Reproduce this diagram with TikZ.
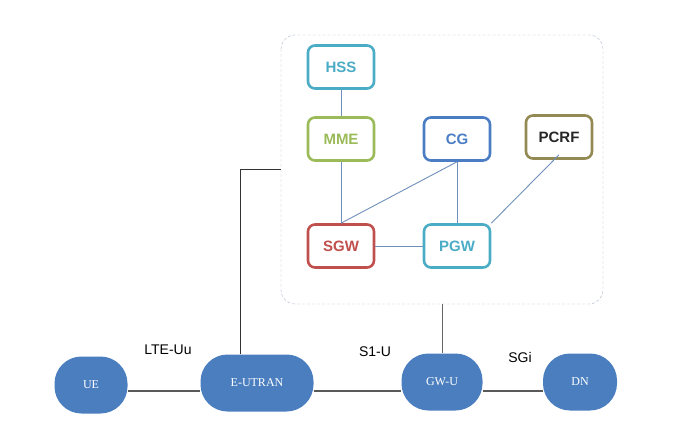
\documentclass[tikz,border=0pt]{standalone}
\usepackage{fontspec}
\setmainfont{Liberation Serif}
\setsansfont{Liberation Sans}
\definecolor{hsscol}{HTML}{4BACC6}
\definecolor{mmecol}{HTML}{9BBB59}
\definecolor{cgcol}{HTML}{4A7DC4}
\definecolor{pcrfcol}{HTML}{938953}
\definecolor{sgwcol}{HTML}{C0504D}
\definecolor{netcol}{HTML}{4A7EBF}
\definecolor{linkcol}{HTML}{6F8FBA}
\definecolor{corecol}{HTML}{A9B4C6}
\tikzstyle{element}=[draw, line width=2.6pt, fill=white, rounded corners=7pt, minimum width=66pt, minimum height=43pt, inner sep=0pt, font=\sffamily\bfseries\fontsize{15}{15}\selectfont]
\tikzstyle{access}=[fill=netcol, text=white, rounded corners=27pt, minimum height=57pt, inner sep=0pt, font=\fontsize{12}{12}\selectfont]
\tikzstyle{iface}=[font=\sffamily\fontsize{14}{14}\selectfont]
\tikzstyle{inner link}=[linkcol, line width=0.9pt]
\tikzstyle{outer link}=[black!80, line width=0.9pt]

\begin{document}
\begin{tikzpicture}[x=1pt,y=-1pt]
    \useasboundingbox (0,0) rectangle (685,422);

    % Core network
    \draw[corecol, densely dashed, rounded corners=14pt] (281,35) rectangle (603,304);
    \coordinate (core) at (442,304);
    \coordinate (corewest) at (281,169);

    % Elements
    \draw (341,67) node[element, draw=hsscol, text=hsscol] (hss) {HSS};
    \draw (341,139) node[element, draw=mmecol, text=mmecol] (mme) {MME};
    \draw (457,139) node[element, draw=cgcol, text=cgcol] (cg) {CG};
    \draw (559,137) node[element, draw=pcrfcol, text=black!85] (pcrf) {PCRF};
    \draw (341,246) node[element, draw=sgwcol, text=sgwcol] (sgw) {SGW};
    \draw (457,246) node[element, draw=hsscol, text=hsscol] (pgw) {PGW};

    % Links
    \draw[inner link] (hss) -- (mme);
    \draw[inner link] (mme) -- (sgw);
    \draw[inner link] (cg.south) -- (sgw.north);
    \draw[inner link] (cg) -- (pgw);
    \draw[inner link] ([yshift=5pt]pcrf.south) -- (pgw.north east);
    \draw[inner link] (sgw) -- (pgw);

    % Access and transport
    \draw (91,385) node[access, minimum width=73pt] (ue) {UE};
    \draw (257,383) node[access, minimum width=113pt] (eutran) {E-UTRAN};
    \draw (442,382) node[access, minimum width=81pt] (gwu) {GW-U};
    \draw (580,382) node[access, minimum width=74pt] (dn) {DN};

    \draw[outer link, black!65, line width=1.2pt] (ue.east |- 0,391) -- (eutran.west |- 0,391);
    \draw[outer link, black!65, line width=1.2pt] (eutran.east |- 0,391) -- (gwu.west |- 0,391);
    \draw[outer link, black!65, line width=1.2pt] (gwu.east |- 0,391) -- (dn.west |- 0,391);
    \draw[outer link] ([xshift=-17pt]eutran.north) |- (corewest);
    \draw[outer link, black!60] (core) -- (gwu.north);

    % Interfaces
    \draw (168,350) node[iface] (lteuu) {LTE-Uu};
    \draw (375,352) node[iface] (s1u) {S1-U};
    \draw (520,357) node[iface] (sgi) {SGi};

\end{tikzpicture}
\end{document}
